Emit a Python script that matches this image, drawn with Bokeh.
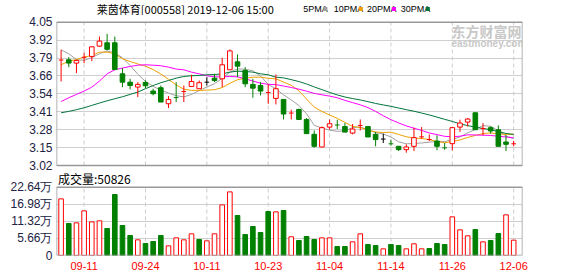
from bokeh.plotting import figure
from bokeh.layouts import column
from bokeh.models import Range1d, FixedTicker, ColumnDataSource, Label
from bokeh.embed import file_html
from bokeh.resources import INLINE
from bokeh.core.properties import value

# ---------------- data ----------------
stock_name = "莱茵体育"
stock_code = "000558"
timestamp = "2019-12-06 15:00"

dates = ["09-06", "09-09", "09-10", "09-11", "09-12", "09-16", "09-17", "09-18", "09-19", "09-20",
         "09-23", "09-24", "09-25", "09-26", "09-27", "09-30", "10-08", "10-09", "10-10", "10-11",
         "10-14", "10-15", "10-16", "10-17", "10-18", "10-21", "10-22", "10-23", "10-24", "10-25",
         "10-28", "10-29", "10-30", "10-31", "11-01", "11-04", "11-05", "11-06", "11-07", "11-08",
         "11-11", "11-12", "11-13", "11-14", "11-15", "11-18", "11-19", "11-20", "11-21", "11-22",
         "11-25", "11-26", "11-27", "11-28", "11-29", "12-02", "12-03", "12-04", "12-05", "12-06"]

open_ = [3.772, 3.780, 3.756, 3.792, 3.804, 3.878, 3.902, 3.902, 3.679, 3.619,
         3.584, 3.617, 3.555, 3.579, 3.464, 3.514, 3.548, 3.588, 3.572, 3.619,
         3.648, 3.643, 3.708, 3.765, 3.703, 3.603, 3.595, 3.541, 3.502, 3.495,
         3.392, 3.423, 3.351, 3.244, 3.153, 3.296, 3.318, 3.300, 3.253, 3.303,
         3.300, 3.244, 3.210, 3.179, 3.158, 3.134, 3.158, 3.222, 3.203, 3.196,
         3.150, 3.177, 3.296, 3.332, 3.399, 3.282, 3.292, 3.277, 3.189, 3.172]
high = [3.852, 3.799, 3.780, 3.830, 3.876, 3.947, 3.966, 3.947, 3.720, 3.643,
        3.619, 3.631, 3.572, 3.595, 3.519, 3.619, 3.595, 3.672, 3.631, 3.655,
        3.679, 3.794, 3.854, 3.818, 3.727, 3.643, 3.619, 3.607, 3.674, 3.495,
        3.421, 3.428, 3.361, 3.272, 3.301, 3.351, 3.349, 3.325, 3.318, 3.351,
        3.300, 3.261, 3.249, 3.206, 3.158, 3.172, 3.292, 3.296, 3.243, 3.237,
        3.182, 3.296, 3.349, 3.361, 3.399, 3.325, 3.301, 3.308, 3.237, 3.196]
low = [3.624, 3.727, 3.684, 3.756, 3.770, 3.872, 3.847, 3.708, 3.583, 3.567,
       3.512, 3.574, 3.524, 3.476, 3.433, 3.476, 3.476, 3.588, 3.572, 3.595,
       3.619, 3.583, 3.708, 3.655, 3.583, 3.507, 3.524, 3.464, 3.459, 3.351,
       3.351, 3.351, 3.249, 3.148, 3.153, 3.279, 3.282, 3.260, 3.244, 3.272,
       3.225, 3.158, 3.182, 3.162, 3.124, 3.112, 3.124, 3.213, 3.195, 3.129,
       3.134, 3.129, 3.261, 3.300, 3.277, 3.237, 3.249, 3.158, 3.124, 3.158]
close = [3.778, 3.756, 3.775, 3.798, 3.873, 3.914, 3.855, 3.710, 3.619, 3.595,
         3.603, 3.593, 3.536, 3.476, 3.495, 3.508, 3.552, 3.624, 3.615, 3.619,
         3.631, 3.744, 3.844, 3.734, 3.607, 3.576, 3.555, 3.545, 3.572, 3.390,
         3.397, 3.351, 3.249, 3.158, 3.292, 3.320, 3.311, 3.260, 3.282, 3.308,
         3.225, 3.206, 3.210, 3.176, 3.134, 3.153, 3.220, 3.226, 3.207, 3.158,
         3.147, 3.292, 3.325, 3.354, 3.277, 3.286, 3.268, 3.158, 3.172, 3.176]

# volume in 万 (10k)
vol_wan = [18.77, 10.60, 10.82, 14.80, 11.15, 11.49, 8.95, 20.20, 9.94, 6.63,
           5.19, 3.98, 4.64, 6.63, 3.20, 5.85, 5.19, 7.18, 5.30, 4.86,
           7.18, 16.79, 21.09, 13.25, 6.96, 9.61, 7.62, 14.58, 14.47, 14.91,
           6.20, 4.97, 6.30, 5.30, 5.85, 5.85, 2.98, 2.98, 4.53, 7.18,
           3.64, 3.31, 2.21, 3.64, 3.31, 2.21, 3.87, 2.21, 2.32, 3.98,
           3.64, 12.81, 8.50, 6.52, 8.61, 4.53, 4.97, 7.29, 13.47, 5.0826]

ma5_head = [3.851, 3.823, 3.782, 3.775]
ma10_head = [3.744, 3.770, 3.782, 3.799, 3.811, 3.835, 3.835, 3.823, 3.787]
ma20_head = [3.480, 3.507, 3.531, 3.555, 3.583, 3.627, 3.679, 3.708, 3.720, 3.732,
             3.741, 3.744, 3.741, 3.737, 3.727, 3.713, 3.708, 3.691, 3.679]
ma30_head = [3.399, 3.409, 3.421, 3.435, 3.452, 3.469, 3.485, 3.500, 3.514, 3.531,
             3.548, 3.572, 3.595, 3.615, 3.631, 3.648, 3.660, 3.665, 3.667, 3.672,
             3.674, 3.679, 3.691, 3.698, 3.696, 3.691, 3.679, 3.672, 3.655]

ma_names = ["5PMA", "10PMA", "20PMA", "30PMA"]
ma_colors = ["#a0a0a0", "#f0a000", "#ff00ff", "#00753a"]

price_tick_labels = ["3.02", "3.15", "3.28", "3.41", "3.54", "3.66", "3.79", "3.92", "4.05"]
vol_tick_labels = ["0", "5.66万", "11.32万", "16.98万", "22.64万"]
date_tick_labels = ["09-11", "09-24", "10-11", "10-23", "11-04", "11-14", "11-26", "12-06"]

# ---------------- derived ----------------
N = len(close)
idx = list(range(N))
RED, GREEN, BLACK = "#ff0000", "#008000", "#000000"


def moving_avg(head, n):
    out = list(head)
    for i in range(len(head), N):
        out.append(sum(close[i - n + 1:i + 1]) / n)
    return out


mas = [moving_avg(ma5_head, 5), moving_avg(ma10_head, 10),
       moving_avg(ma20_head, 20), moving_avg(ma30_head, 30)]

ccol, cfill, is_cross = [], [], []
for o, c in zip(open_, close):
    if c > o:
        ccol.append(RED); cfill.append("#ffffff")
    elif c < o:
        ccol.append(GREEN); cfill.append(GREEN)
    else:
        ccol.append(BLACK); cfill.append(BLACK)
    is_cross.append(abs(c - o) < 0.008)

body_src = ColumnDataSource(dict(
    x=[i for i in idx if not is_cross[i]],
    top=[max(open_[i], close[i]) for i in idx if not is_cross[i]],
    bottom=[min(open_[i], close[i]) for i in idx if not is_cross[i]],
    col=[ccol[i] for i in idx if not is_cross[i]],
    fill=[cfill[i] for i in idx if not is_cross[i]],
))
cross_src = ColumnDataSource(dict(
    x0=[i - 0.3 for i in idx if is_cross[i]],
    x1=[i + 0.3 for i in idx if is_cross[i]],
    y=[close[i] for i in idx if is_cross[i]],
    col=[ccol[i] for i in idx if is_cross[i]],
))
wick_src = ColumnDataSource(dict(x=idx, lo=low, hi=high, col=ccol))

vcol, vfill = [], []
for i in idx:
    ref = close[i - 1] if i > 0 else open_[i]
    if close[i] >= ref:
        vcol.append(RED); vfill.append("#ffffff")
    else:
        vcol.append(GREEN); vfill.append(GREEN)
vol_src = ColumnDataSource(dict(x=idx, top=vol_wan, col=vcol, fill=vfill))

pmin, pmax = float(price_tick_labels[0]), float(price_tick_labels[-1])
nstep = len(price_tick_labels) - 1
price_ticks = [pmin + k * (pmax - pmin) / nstep for k in range(nstep + 1)]
vol_ticks = [float(s.rstrip("万")) for s in vol_tick_labels]
vol_top = vol_ticks[-1]
date_tick_idx = [dates.index(d) for d in date_tick_labels]

# ---------------- layout constants (canvas pixels) ----------------
W = 578
HDR_H = 15
FRAME_W = 466
FRAME_TOP, FRAME_BOT = HDR_H, 255          # main frame, canvas y
PRICE_TOP, PRICE_BOT = 21.7, 165.0         # price box, canvas y
VOL_TOP, VOL_BOT = 186.7, 255.0            # volume box, canvas y
XR = (-0.6, 60.15)
FONT_NUM = "Liberation Sans"
FONT_CJK = "Noto Sans CJK SC"
LABEL_COL = "#222244"
BORDER = "#999999"
GRID = "#cfcfcf"

FRAME_H = FRAME_BOT - FRAME_TOP
p_per_px = (pmax - pmin) / (PRICE_BOT - PRICE_TOP)
v_per_px = vol_top / (VOL_BOT - VOL_TOP)
price_range = Range1d(pmin - (FRAME_BOT - PRICE_BOT) * p_per_px,
                      pmax + (PRICE_TOP - FRAME_TOP) * p_per_px)
vol_range = Range1d(0 - (FRAME_BOT - VOL_BOT) * v_per_px,
                    vol_top + (VOL_TOP - FRAME_TOP) * v_per_px)


def base_of_price(pv):
    return (pv - price_range.start) / p_per_px


def base_of_vol(vv):
    return (vv - vol_range.start) / v_per_px


# ---------------- header strip (pixel coordinates) ----------------
t = figure(width=W, height=HDR_H, x_range=Range1d(0, W), y_range=Range1d(0, HDR_H),
           min_border=0, x_axis_location=None, y_axis_location=None,
           toolbar_location=None, output_backend="svg", outline_line_color=None)
t.grid.visible = False
t.text(x=[50], y=[HDR_H - 8], text=[f"{stock_name}[{stock_code}] {timestamp}"],
       text_font=value(FONT_CJK), text_font_size="11px", text_baseline="middle",
       text_color="#000000")
leg_x = [306, 344, 385, 427]
sq_x = [331, 375, 416, 458]
for name, colr, lx, sx in zip(ma_names, ma_colors, leg_x, sq_x):
    t.text(x=[lx], y=[HDR_H - 8.5], text=[name], text_font=value(FONT_NUM), text_font_size="9px",
           text_baseline="middle", text_color="#000000")
    t.quad(left=[sx], right=[sx + 5], bottom=[HDR_H - 10.5], top=[HDR_H - 6.5],
           fill_color=colr, line_color=None)

# ---------------- main chart: price box + volume box share one frame ----------------
m = figure(frame_width=FRAME_W, frame_height=FRAME_H, min_border_left=56, min_border_right=56,
           min_border_top=0, min_border_bottom=21,
           x_range=Range1d(*XR), y_range=Range1d(0, FRAME_H),
           toolbar_location=None, output_backend="svg", outline_line_color=None)
m.extra_y_ranges = {"price": price_range, "vol": vol_range}

yt = [base_of_price(x) for x in price_ticks] + [base_of_vol(x) for x in vol_ticks]
ylab = price_tick_labels + vol_tick_labels
m.yaxis.ticker = FixedTicker(ticks=yt)
m.yaxis.major_label_overrides = {tk: lb for tk, lb in zip(yt, ylab)}
m.xaxis.ticker = FixedTicker(ticks=date_tick_idx)
m.xaxis.major_label_overrides = {i: dates[i] for i in date_tick_idx}
for ax in (m.xaxis, m.yaxis):
    ax.axis_line_color = None
    ax.major_tick_line_color = None
    ax.minor_tick_line_color = None
    ax.major_tick_out = 0
    ax.major_tick_in = 0
m.yaxis.major_label_text_font = FONT_NUM
m.yaxis.major_label_text_font_size = "12px"
m.yaxis.major_label_text_color = LABEL_COL
m.yaxis.major_label_standoff = 4
m.xaxis.major_label_text_font = FONT_NUM
m.xaxis.major_label_text_font_size = "11px"
m.xaxis.major_label_text_color = RED
m.xaxis.major_label_standoff = 6
m.ygrid.grid_line_color = GRID
m.xgrid.visible = False

nt = len(date_tick_idx)
# dashed date guides inside each box
m.segment(x0=date_tick_idx, x1=date_tick_idx, y0=[pmin] * nt, y1=[pmax] * nt,
          line_color="#cccccc", line_dash="4 3", line_width=1, y_range_name="price")
m.segment(x0=date_tick_idx, x1=date_tick_idx, y0=[0] * nt, y1=[vol_top] * nt,
          line_color="#cccccc", line_dash="4 3", line_width=1, y_range_name="vol")

# watermark
m.add_layout(Label(x=395, y=FRAME_BOT - 30, x_units="screen", y_units="screen", text="东方财富网",
                   text_font=FONT_CJK, text_font_size="14px", text_font_style="bold",
                   text_color="#c8c8c8", text_baseline="middle"))
m.add_layout(Label(x=395, y=FRAME_BOT - 43, x_units="screen", y_units="screen", text="eastmoney.com",
                   text_font=FONT_NUM, text_font_size="10px", text_font_style="bold",
                   text_color="#c8c8c8", text_baseline="middle"))

# moving averages
for ma, colr in zip(mas, ma_colors):
    m.line(idx, ma, line_color=colr, line_width=1, y_range_name="price")

# candles
m.segment(x0="x", y0="lo", x1="x", y1="hi", line_color="col", line_width=1,
          source=wick_src, y_range_name="price")
m.vbar(x="x", top="top", bottom="bottom", width=0.6, fill_color="fill", line_color="col",
       line_width=1, source=body_src, y_range_name="price")
m.segment(x0="x0", y0="y", x1="x1", y1="y", line_color="col", line_width=1,
          source=cross_src, y_range_name="price")

# volume bars
m.vbar(x="x", top="top", bottom=0, width=0.6, fill_color="fill", line_color="col",
       line_width=1, source=vol_src, y_range_name="vol")

# box borders
m.quad(left=[XR[0]], right=[XR[1]], bottom=[pmin], top=[pmax], fill_color=None,
       line_color=BORDER, line_width=1.5, y_range_name="price")
m.quad(left=[XR[0]], right=[XR[1]], bottom=[0], top=[vol_top], fill_color=None,
       line_color=BORDER, line_width=1.5, y_range_name="vol")

# volume caption
cap_x = XR[0] + 1.5 * (XR[1] - XR[0]) / FRAME_W
m.text(x=[cap_x], y=[FRAME_BOT - 177.5], text=[f"成交量:{int(round(vol_wan[-1] * 10000))}"],
       text_font=value(FONT_CJK), text_font_size="12px", text_color="#000000",
       text_baseline="middle")

layout = column(t, m)
open("out.html", "w").write(file_html(layout, INLINE))
